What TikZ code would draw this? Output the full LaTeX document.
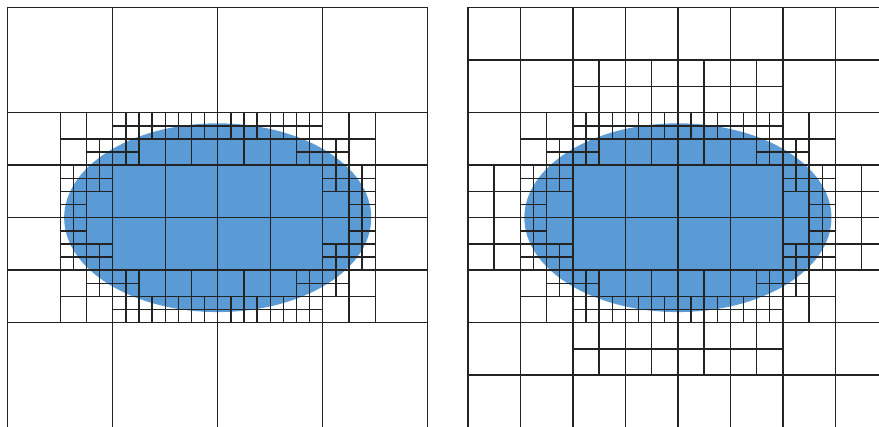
\documentclass[tikz,border=0pt]{standalone}
\usetikzlibrary{calc}
\definecolor{fillblue}{RGB}{91,155,213}
\definecolor{gridcol}{RGB}{35,35,35}
\tikzset{
  cellbox/.style={draw=gridcol, line width=0.7pt},
  blob/.style={fill=fillblue, draw=none},
}
\begin{document}
\begin{tikzpicture}[x=0.5pt,y=-0.5pt]
\useasboundingbox (0,0) rectangle (879,427);
\fill[white] (0,0) rectangle (879,427);
\clip (0,0) rectangle (879,427);
% ---------- left panel: unbalanced quadtree ----------
\begin{scope}[shift={(217.7,217.7)}, scale=13.125]
  \fill[blob] (0,0) ellipse [x radius=11.7, y radius=7.19];
  \foreach \sx in {1,-1}{
    \foreach \sy in {1,-1}{
      \begin{scope}[xscale=\sx, yscale=\sy]
        \foreach \X/\Y/\s in {0/8/8, 8/8/8, 0/0/4, 4/0/4, 12/0/4, 12/4/4,
                              0/4/2, 2/4/2, 4/4/2, 8/0/2, 10/4/2, 8/6/2, 10/6/2}
          \draw[cellbox] (\X,\Y) rectangle ++(\s,\s);
        \foreach \X/\Y in {0/6, 2/6, 6/4, 4/6, 6/6, 10/0, 8/2, 10/2, 8/4}{
          \foreach \a in {0,1}{
            \foreach \b in {0,1}{
              \draw[cellbox] (\X+\a,\Y+\b) rectangle ++(1,1);
            }
          }
        }
      \end{scope}
    }
  }
\end{scope}
% ---------- right panel: balanced quadtree ----------
\begin{scope}[shift={(677.9,217.7)}, scale=13.125]
  \fill[blob] (0,0) ellipse [x radius=11.7, y radius=7.19];
  \foreach \sx in {1,-1}{
    \foreach \sy in {1,-1}{
      \begin{scope}[xscale=\sx, yscale=\sy]
        \foreach \X/\Y/\s in {0/12/4, 4/12/4, 8/8/4, 12/8/4, 8/12/4, 12/12/4,
                              0/8/2, 2/8/2, 4/8/2, 6/8/2, 0/10/2, 2/10/2, 4/10/2, 6/10/2,
                              0/0/4, 4/0/4, 12/4/4,
                              12/0/2, 14/0/2, 12/2/2, 14/2/2,
                              0/4/2, 2/4/2, 4/4/2, 8/0/2, 10/4/2, 8/6/2, 10/6/2}
          \draw[cellbox] (\X,\Y) rectangle ++(\s,\s);
        \foreach \X/\Y in {0/6, 2/6, 6/4, 4/6, 6/6, 10/0, 8/2, 10/2, 8/4}{
          \foreach \a in {0,1}{
            \foreach \b in {0,1}{
              \draw[cellbox] (\X+\a,\Y+\b) rectangle ++(1,1);
            }
          }
        }
      \end{scope}
    }
  }
\end{scope}
\end{tikzpicture}
\end{document}
